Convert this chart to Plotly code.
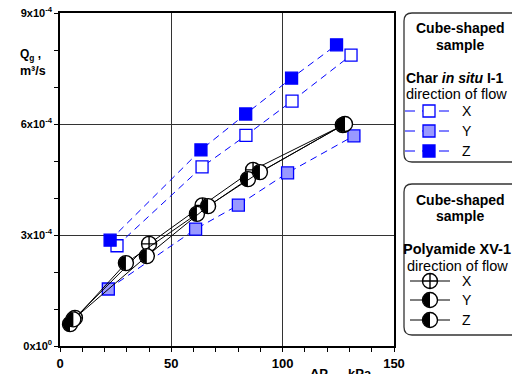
import plotly.graph_objects as go

# ---------------- data ----------------
char_x_dp = [25.6, 63.8, 83.5, 104.2, 130.7]
char_x_q = [2.71e-4, 4.84e-4, 5.69e-4, 6.62e-4, 7.86e-4]
char_y_dp = [21.7, 60.9, 80.1, 102.2, 132.0]
char_y_q = [1.54e-4, 3.16e-4, 3.81e-4, 4.68e-4, 5.68e-4]
char_z_dp = [22.5, 63.3, 83.4, 104.0, 124.2]
char_z_q = [2.86e-4, 5.30e-4, 6.27e-4, 7.24e-4, 8.14e-4]

poly_x_dp = [6.7, 40.0, 64.0, 86.7, 127.5]
poly_x_q = [0.76e-4, 2.76e-4, 3.80e-4, 4.76e-4, 5.98e-4]
poly_y_dp = [4.5, 29.6, 61.5, 84.4, 127.0]
poly_y_q = [0.59e-4, 2.24e-4, 3.57e-4, 4.51e-4, 5.97e-4]
poly_z_dp = [6.0, 39.0, 66.5, 89.8, 128.0]
poly_z_q = [0.72e-4, 2.43e-4, 3.78e-4, 4.70e-4, 6.00e-4]

x_ticks = [0, 50, 100, 150]
y_ticks = [0, 3e-4, 6e-4, 9e-4]
y_ticktext = ["0x10<sup>0</sup>", "3x10<sup>-4</sup>", "6x10<sup>-4</sup>", "9x10<sup>-4</sup>"]
directions = ["X", "Y", "Z"]

# ---------------- styles ----------------
FONT = "Liberation Sans"
BLUE = "#0000ff"
LIGHT = "#9999ff"
W, H = 512, 374
ML, MR, MT, MB = 60, 0, 13, 28
PW, PH = W - ML - MR, H - MT - MB
MAIN_W = 334


def px(x):
    return (x - ML) / PW


def py(y):
    return (H - MB - y) / PH


fig = go.Figure()

sq_fill = ["white", LIGHT, BLUE]
char_series = [(char_x_dp, char_x_q), (char_y_dp, char_y_q), (char_z_dp, char_z_q)]
for (xs, ys), fc, name in zip(char_series, sq_fill, directions):
    fig.add_trace(go.Scatter(
        x=xs, y=ys, mode="lines+markers", name=name, showlegend=False,
        line=dict(color=BLUE, width=1, dash="7px,5px"),
        marker=dict(symbol="square", size=12, color=fc, line=dict(color=BLUE, width=1.3)),
        cliponaxis=False))

poly_series = [(poly_x_dp, poly_x_q), (poly_y_dp, poly_y_q), (poly_z_dp, poly_z_q)]
for i, ((xs, ys), name) in enumerate(zip(poly_series, directions)):
    fig.add_trace(go.Scatter(
        x=xs, y=ys, mode="lines+markers", name=name, showlegend=False,
        line=dict(color="black", width=1),
        marker=dict(symbol="circle-cross" if i == 0 else "circle", size=15, color="white",
                    line=dict(color="black", width=1.4)),
        cliponaxis=False))

R = 7.2
K = 0.5523 * R
HALF = f"M 0,{R} C {-K},{R} {-R},{K} {-R},0 C {-R},{-K} {-K},{-R} 0,{-R} Z"
shapes = []
for xs, ys in poly_series[1:]:
    for xv, yv in zip(xs, ys):
        shapes.append(dict(type="path", xref="x", yref="y", xsizemode="pixel", ysizemode="pixel",
                           xanchor=xv, yanchor=yv, path=HALF, fillcolor="black",
                           line=dict(width=0), layer="above"))

# ---------------- legend samples (pixel overlay axis) ----------------
leg1_rows = [111, 131, 151]
for yv, fc in zip(leg1_rows, sq_fill):
    fig.add_trace(go.Scatter(x=[405, 450], y=[yv, yv], mode="lines", xaxis="x2", yaxis="y2",
                             showlegend=False, hoverinfo="skip",
                             line=dict(color=BLUE, width=1, dash="10px,7px"), cliponaxis=False))
    fig.add_trace(go.Scatter(x=[429], y=[yv], mode="markers", xaxis="x2", yaxis="y2",
                             showlegend=False, hoverinfo="skip",
                             marker=dict(symbol="square", size=12, color=fc,
                                         line=dict(color=BLUE, width=1.3)), cliponaxis=False))
leg2_rows = [281, 300, 320]
for i, yv in enumerate(leg2_rows):
    fig.add_trace(go.Scatter(x=[410, 450], y=[yv, yv], mode="lines", xaxis="x2", yaxis="y2",
                             showlegend=False, hoverinfo="skip",
                             line=dict(color="black", width=1), cliponaxis=False))
    fig.add_trace(go.Scatter(x=[430], y=[yv], mode="markers", xaxis="x2", yaxis="y2",
                             showlegend=False, hoverinfo="skip",
                             marker=dict(symbol="circle-cross" if i == 0 else "circle", size=15,
                                         color="white", line=dict(color="black", width=1.4)),
                             cliponaxis=False))
    if i > 0:
        shapes.append(dict(type="path", xref="x2", yref="y2", xsizemode="pixel", ysizemode="pixel",
                           xanchor=430, yanchor=yv, path=HALF, fillcolor="black",
                           line=dict(width=0), layer="above"))


def rbox(x0, y0, x1, y1, r=8):
    X0, X1 = px(x0), px(x1)
    Yt, Yb = py(y0), py(y1)
    rx, ry = r / PW, r / PH
    return (f"M {X0+rx},{Yt} L {X1-rx},{Yt} Q {X1},{Yt} {X1},{Yt-ry} L {X1},{Yb+ry} "
            f"Q {X1},{Yb} {X1-rx},{Yb} L {X0+rx},{Yb} Q {X0},{Yb} {X0},{Yb+ry} "
            f"L {X0},{Yt-ry} Q {X0},{Yt} {X0+rx},{Yt} Z")


for b in [(404, 13, 520, 162), (404, 184, 520, 335)]:
    shapes.append(dict(type="path", xref="paper", yref="paper", path=rbox(*b),
                       line=dict(color="#333333", width=1.3), fillcolor="rgba(0,0,0,0)"))

annotations = []


def ann(text, x, y, xanchor="center", size=14, bold=False, yanchor="middle"):
    annotations.append(dict(text=text, x=px(x), y=py(y), xref="paper", yref="paper",
                            xanchor=xanchor, yanchor=yanchor, showarrow=False,
                            font=dict(family=FONT, size=size, color="black",
                                      weight="bold" if bold else "normal")))


ann("Cube-shaped", 460, 28, bold=True)
ann("sample", 460, 45, bold=True)
ann("Char <i>in situ</i> I-1", 404, 78, xanchor="left", bold=True)
ann("direction of flow", 404, 94, xanchor="left", size=14.5)
for yv, d in zip(leg1_rows, directions):
    ann(d, 460, yv, xanchor="left")
ann("Cube-shaped", 460, 200, bold=True)
ann("sample", 460, 216, bold=True)
ann("Polyamide XV-1", 401, 249, xanchor="left", size=14.5, bold=True)
ann("direction of flow", 405, 266, xanchor="left", size=14.5)
for yv, d in zip(leg2_rows, directions):
    ann(d, 460, yv, xanchor="left")

ann("Q<sub>g</sub> ,", 18, 55, xanchor="left", size=12, bold=True)
ann("m³/s", 18, 71, xanchor="left", size=12.5, bold=True)
ann("ΔP", 319, 364, size=13, bold=True, yanchor="top")
ann("kPa", 360, 364, size=13, bold=True, yanchor="top")

fig.update_layout(
    template="none",
    width=W, height=H, autosize=False,
    margin=dict(l=ML, r=MR, t=MT, b=MB, pad=0, autoexpand=False),
    paper_bgcolor="white", plot_bgcolor="rgba(0,0,0,0)",
    showlegend=False,
    shapes=shapes, annotations=annotations,
    xaxis=dict(domain=[0, MAIN_W / PW], range=[0, 150], tickvals=x_ticks, automargin=False,
               showgrid=True, gridcolor="#333333", gridwidth=1, zeroline=False,
               showline=True, linecolor="black", linewidth=1.5, mirror=True,
               ticks="outside", ticklen=4, tickcolor="black", ticklabelstandoff=1,
               minor=dict(dtick=10, ticks="outside", ticklen=4, tickcolor="black", showgrid=False),
               tickfont=dict(family=FONT, size=13, color="black", weight="bold")),
    yaxis=dict(domain=[0, 1], range=[0, 9e-4], tickvals=y_ticks, ticktext=y_ticktext,
               automargin=False,
               showgrid=True, gridcolor="#333333", gridwidth=1, zeroline=False,
               showline=True, linecolor="black", linewidth=1.5, mirror=True,
               ticks="outside", ticklen=4, tickcolor="black",
               minor=dict(dtick=1e-4, ticks="outside", ticklen=4, tickcolor="black", showgrid=False),
               tickfont=dict(family=FONT, size=11, color="black", weight="bold")),
    xaxis2=dict(domain=[0, 1], range=[ML, W], visible=False, anchor="y2", fixedrange=True,
                automargin=False, showgrid=False, zeroline=False),
    yaxis2=dict(domain=[0, 1], range=[H - MB, MT], visible=False, anchor="x2", fixedrange=True,
                automargin=False, showgrid=False, zeroline=False),
)

POST = ("document.documentElement.style.overflow='hidden';"
        "document.body.style.margin='0';document.body.style.overflow='hidden';")

fig.write_html("out.html", post_script=POST,
               config={"displayModeBar": False, "responsive": False})
